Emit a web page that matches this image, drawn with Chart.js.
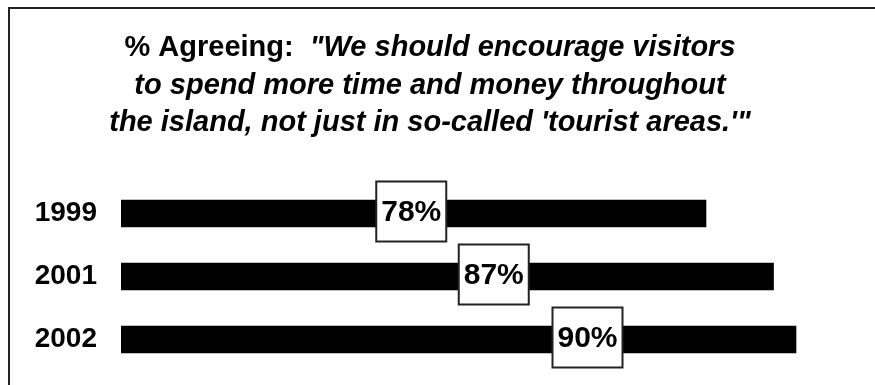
<!DOCTYPE html>
<html>
<head>
<meta charset="utf-8">
<script src="https://cdn.jsdelivr.net/npm/chart.js@4"></script>
<style>
  body { margin: 0; background: #fff; }
  #wrap { width: 875px; height: 385px; position: relative; }
</style>
</head>
<body>
<div id="wrap"><canvas id="myChart"></canvas></div>
<script>
const years = ['1999', '2001', '2002'];
const agreeing = [78, 87, 90];
const valueLabels = ['78%', '87%', '90%'];

const titleLead = '% Agreeing:  ';
const titleLines = [
    '"We should encourage visitors',
    'to spend more time and money throughout',
    "the island, not just in so-called 'tourist areas.'\""
];

// title, frame and the boxed percentage labels are drawn by hand
const drawExtras = {
    id: 'drawExtras',
    afterDraw(chart, args, opts) {
        const c = chart.ctx;
        c.save();

        // frame (top + left only)
        c.strokeStyle = '#222';
        c.lineWidth = 2;
        c.beginPath();
        c.moveTo(875, 8);
        c.lineTo(9, 8);
        c.lineTo(9, 385);
        c.stroke();

        // title
        c.fillStyle = '#000';
        c.textBaseline = 'alphabetic';
        const plainFont = 'bold 29px "Liberation Sans", Arial, sans-serif';
        const italFont = 'italic bold 29px "Liberation Sans", Arial, sans-serif';
        const cx = 430;
        c.font = plainFont;
        const w0 = c.measureText(titleLead).width;
        c.font = italFont;
        const w1 = c.measureText(titleLines[0]).width;
        let x0 = cx - (w0 + w1) / 2;
        c.textAlign = 'left';
        c.font = plainFont;
        c.fillText(titleLead, x0, 56);
        c.font = italFont;
        c.fillText(titleLines[0], x0 + w0, 56);
        c.textAlign = 'center';
        c.fillText(titleLines[1], cx, 94);
        c.fillText(titleLines[2], cx, 131);

        // labels
        const meta = chart.getDatasetMeta(0);
        const xs = chart.scales.x;
        meta.data.forEach(function(bar, i) {
            const bx = xs.getPixelForValue(opts.labelAt[i]);
            const by = bar.y - 2;
            const w = 70, h = 60;
            c.fillStyle = '#fff';
            c.fillRect(bx - w / 2, by - h / 2, w, h);
            c.strokeStyle = '#222';
            c.lineWidth = 2;
            c.strokeRect(bx - w / 2, by - h / 2, w, h);
            c.fillStyle = '#000';
            c.font = 'bold 30px "Liberation Sans", Arial, sans-serif';
            c.textAlign = 'center';
            c.textBaseline = 'middle';
            c.fillText(valueLabels[i], bx, by + 1);
        });

        c.restore();
    }
};

const ctx = document.getElementById('myChart');

new Chart(ctx, {
    type: 'bar',
    data: {
        labels: years,
        datasets: [{
            data: agreeing,
            backgroundColor: '#000',
            borderWidth: 0,
            barThickness: 27
        }]
    },
    options: {
        indexAxis: 'y',
        responsive: true,
        maintainAspectRatio: false,
        animation: false,
        layout: {
            padding: { left: 0, right: 4, top: 182, bottom: 14 }
        },
        scales: {
            x: {
                display: false,
                min: 0,
                max: 100
            },
            y: {
                grid: { display: false, drawTicks: false },
                border: { display: false },
                ticks: {
                    color: '#000',
                    padding: 24,
                    font: { family: '"Liberation Sans", Arial, sans-serif', size: 28, weight: 'bold' }
                },
                afterFit: function(scale) {
                    scale.width = 121;
                    scale.paddingTop = 0;
                    scale.paddingBottom = 0;
                }
            }
        },
        plugins: {
            legend: { display: false },
            tooltip: { enabled: false },
            drawExtras: {
                labelAt: [38.7, 49.7, 62.2]
            }
        }
    },
    plugins: [drawExtras]
});
</script>
</body>
</html>
